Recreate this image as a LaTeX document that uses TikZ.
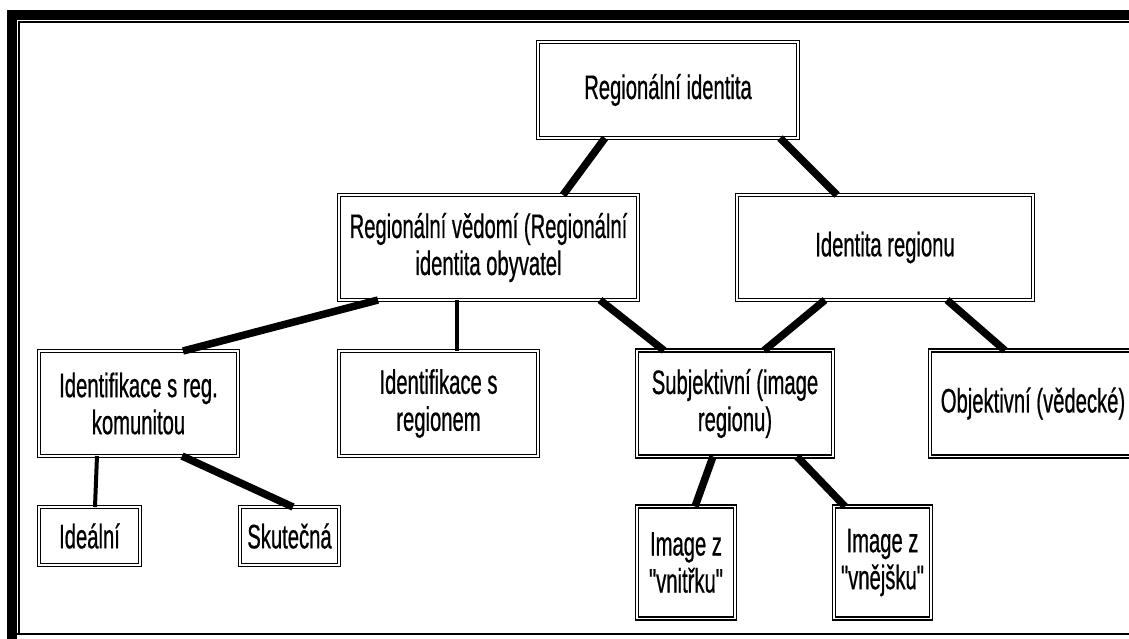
\documentclass[tikz,border=0pt]{standalone}
\usepackage{fontspec}
\newfontfamily\boxfont{Liberation Sans}[FakeStretch=0.595, FakeBold=0.6]
\usetikzlibrary{positioning}

\begin{document}
\begin{tikzpicture}[x=1pt, y=-1pt,
        box/.style={draw, line width=1.6pt, double, double distance=1.4pt, fill=white, align=center, inner sep=0pt, outer sep=0pt, font=\boxfont\fontsize{34}{37}\selectfont},
        link/.style={-, line width=7.5pt},
        thinlink/.style={-, line width=4pt},
        frame/.style={line width=10pt}
    ]
        \useasboundingbox (0,0) rectangle (1129,638);
        \clip (0,0) rectangle (1129,638);
        % Frame
        \draw[frame] (12,645) -- (12,15) -- (1140,15);
        \draw[line width=1.5pt] (19,633) -- (19,22) -- (1140,22);
        \draw[line width=2pt] (12,634) -- (1140,634);

        % Top level
        \node[box, minimum width=260pt, minimum height=96pt] (top) at (668,90) {Regionální identita};
        \node[box, minimum width=299pt, minimum height=105pt, below=57pt of top, xshift=-179.5pt] (ved) {Regionální vědomí (Regionální\\identita obyvatel};
        \node[box, minimum width=296pt, minimum height=105pt, below=57pt of top, xshift=217pt] (idr) {Identita regionu};

        % Third row
        \node[box, minimum width=199pt, minimum height=105pt, below=51pt of ved, xshift=-350pt] (kom) {Identifikace s reg.\\komunitou};
        \node[box, minimum width=199pt, minimum height=105pt, right=101pt of kom] (reg) {Identifikace s\\regionem};
        \node[box, minimum width=196pt, minimum height=106pt, right=99pt of reg] (sub) {Subjektivní (image\\regionu)};
        \node[box, minimum width=260pt, minimum height=106pt, right=97pt of sub] (obj) {\makebox[206pt][c]{Objektivní (vědecké)}\hspace*{54pt}};

        % Bottom row
        \node[box, minimum width=101pt, minimum height=58pt, below=51pt of kom, xshift=-49pt] (ide) {Ideální};
        \node[box, minimum width=99pt, minimum height=58pt, right=100pt of ide] (sku) {Skutečná};
        \node[box, minimum width=98pt, minimum height=112pt, below=50pt of sub, xshift=-49pt] (vni) {Image z\\"vnitřku"};
        \node[box, minimum width=97pt, minimum height=112pt, right=99pt of vni] (vne) {Image z\\"vnějšku"};

        % Links
        \draw[link] ([xshift=-63pt]top.south) -- ([xshift=74.5pt]ved.north);
        \draw[link] ([xshift=112pt]top.south) -- ([xshift=-48pt]idr.north);
        \draw[link] ([xshift=-110.5pt]ved.south) -- ([xshift=44.5pt]kom.north);
        \draw[thinlink] ([xshift=-31.5pt]ved.south) -- ([xshift=18.5pt]reg.north);
        \draw[link] ([xshift=111.5pt]ved.south) -- ([xshift=-71pt]sub.north);
        \draw[link] ([xshift=-60pt]idr.south) -- ([xshift=29pt]sub.north);
        \draw[link] ([xshift=62pt]idr.south) -- ([xshift=-55pt]obj.north);
        \draw[thinlink] ([xshift=-41.5pt]kom.south) -- ([xshift=5.5pt]ide.north);
        \draw[link] ([xshift=43.5pt]kom.south) -- ([xshift=3.5pt]sku.north);
        \draw[link] ([xshift=-22pt]sub.south) -- ([xshift=9pt]vni.north);
        \draw[link] ([xshift=62pt]sub.south) -- ([xshift=-37.5pt]vne.north);
\end{tikzpicture}
\end{document}
